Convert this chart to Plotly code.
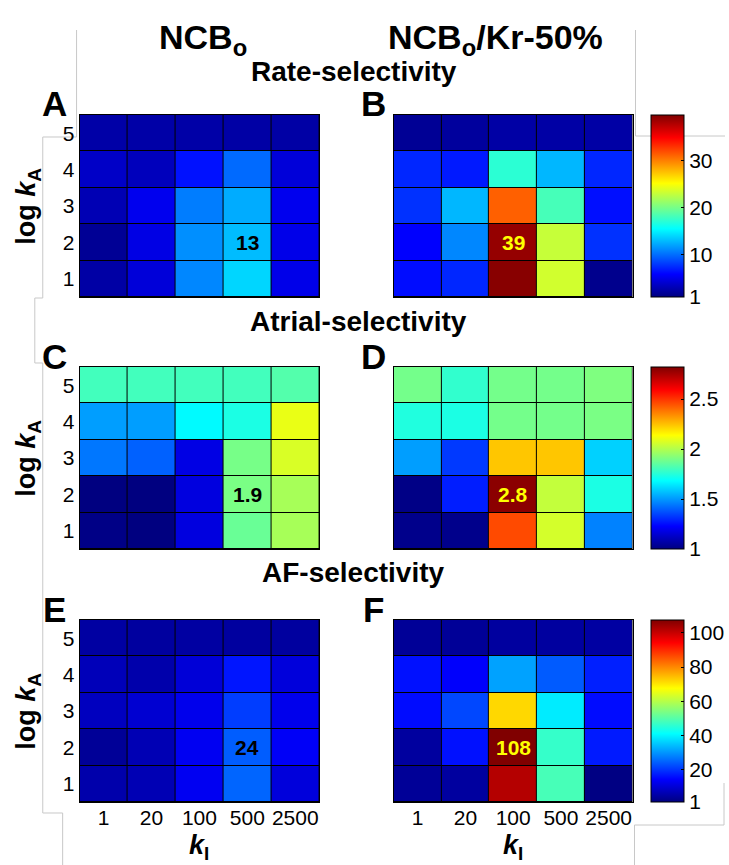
import plotly.graph_objects as go

# ---------------- data ----------------
kI_labels = ["1", "20", "100", "500", "2500"]
logkA = [1, 2, 3, 4, 5]

# rows: logkA = 1 .. 5 (bottom to top); columns: kI = 1, 20, 100, 500, 2500
rate_ncb = [
    [2.4, 4.4, 11.0, 14.0, 5.0],
    [1.8, 4.8, 11.3, 13.0, 5.0],
    [3.0, 5.2, 10.6, 12.4, 5.2],
    [3.7, 3.3, 6.5, 9.9, 4.4],
    [2.5, 2.5, 2.5, 2.4, 2.4],
]
rate_kr = [
    [6.3, 7.3, 39.5, 23.5, 1.5],
    [5.8, 11.0, 39.0, 23.1, 7.7],
    [7.7, 12.8, 31.3, 18.2, 6.4],
    [7.3, 6.8, 17.2, 12.8, 7.3],
    [1.8, 2.1, 2.4, 2.4, 2.4],
]
atrial_ncb = [
    [1.01, 1.00, 1.17, 1.87, 1.98],
    [1.00, 1.00, 1.17, 1.90, 1.98],
    [1.44, 1.40, 1.18, 1.895, 2.07],
    [1.51, 1.51, 1.675, 1.73, 2.10],
    [1.80, 1.80, 1.80, 1.80, 1.83],
]
atrial_kr = [
    [1.02, 1.02, 2.46, 2.06, 1.46],
    [1.01, 1.28, 2.80, 2.03, 1.73],
    [1.51, 1.33, 2.24, 2.24, 1.60],
    [1.74, 1.73, 1.89, 1.89, 1.90],
    [1.89, 1.77, 1.89, 1.89, 1.91],
]
af_ncb = [
    [5.5, 6.4, 12.9, 24.9, 10.5],
    [3.4, 6.4, 12.9, 24.0, 13.5],
    [7.6, 9.5, 12.3, 20.7, 12.3],
    [7.0, 5.5, 10.1, 16.5, 10.5],
    [4.6, 4.3, 4.6, 4.3, 4.3],
]
af_kr = [
    [3.4, 4.3, 102.0, 48.4, 1.3],
    [4.3, 16.0, 108.0, 46.5, 17.0],
    [15.5, 21.7, 71.6, 39.0, 15.5],
    [16.0, 14.0, 31.2, 23.8, 17.5],
    [3.4, 3.4, 4.3, 4.3, 4.6],
]

# highlighted cell per panel: (column index, logkA, label colour)
highlights = {
    "A": (3, 2, "black"), "B": (2, 2, "#ffff00"),
    "C": (3, 2, "black"), "D": (2, 2, "#ffff00"),
    "E": (3, 2, "black"), "F": (2, 2, "#ffff00"),
}

cb_ranges = [(1, 39.8), (1, 2.82), (1, 107.5)]
cb_ticks = [[1, 10, 20, 30], [1, 1.5, 2, 2.5], [1, 20, 40, 60, 80, 100]]

row_titles = ["Rate-selectivity", "Atrial-selectivity", "AF-selectivity"]
col_titles = ["NCB<sub>o</sub>", "NCB<sub>o</sub>/Kr-50%"]

# ---------------- layout geometry (pixels) ----------------
W, H = 729, 865
FONT = "Liberation Sans, Arial, sans-serif"
jet = [[0, "rgb(0,0,128)"], [0.125, "rgb(0,0,255)"], [0.375, "rgb(0,255,255)"],
       [0.625, "rgb(255,255,0)"], [0.875, "rgb(255,0,0)"], [1, "rgb(128,0,0)"]]

col_x = [(80, 321), (396, 636)]
row_y = [(115, 297), (367, 549), (620, 802)]
cb_x = 655

def px(x):
    return x / W

def py(y):
    return 1 - y / H

panels = [
    ("A", rate_ncb, 0, 0), ("B", rate_kr, 0, 1),
    ("C", atrial_ncb, 1, 0), ("D", atrial_kr, 1, 1),
    ("E", af_ncb, 2, 0), ("F", af_kr, 2, 1),
]

fig = go.Figure()
annotations = []
layout_axes = {}

for i, (letter, z, r, c) in enumerate(panels):
    n = i + 1
    xa = "x" if n == 1 else f"x{n}"
    ya = "y" if n == 1 else f"y{n}"
    ca = "coloraxis" if r == 0 else f"coloraxis{r + 1}"
    fig.add_trace(go.Heatmap(
        z=z, x=list(range(len(kI_labels))), y=logkA,
        coloraxis=ca, xaxis=xa, yaxis=ya, xgap=1, ygap=1,
        hoverinfo="skip",
    ))
    xk = "xaxis" if n == 1 else f"xaxis{n}"
    yk = "yaxis" if n == 1 else f"yaxis{n}"
    x0, x1 = col_x[c]
    y0, y1 = row_y[r]
    layout_axes[xk] = dict(
        domain=[px(x0), px(x1)], anchor=ya, range=[-0.5, 4.5],
        tickvals=list(range(len(kI_labels))), ticktext=kI_labels,
        showticklabels=(r == 2), ticks="", showgrid=False, zeroline=False,
        showline=True, mirror=True, linecolor="black", linewidth=1,
        tickfont=dict(family=FONT, size=21, color="black"),
        ticklabelstandoff=-3,
        fixedrange=True,
    )
    layout_axes[yk] = dict(
        domain=[py(y1), py(y0)], anchor=xa, range=[0.5, 5.5],
        tickvals=logkA, showticklabels=(c == 0), ticks="",
        showgrid=False, zeroline=False,
        showline=True, mirror=True, linecolor="black", linewidth=1,
        tickfont=dict(family=FONT, size=21, color="black"),
        fixedrange=True,
    )
    # highlighted cell label
    hc, hy, hcol = highlights[letter]
    val = z[hy - 1][hc]
    annotations.append(dict(
        x=hc, y=hy, xref=xa, yref=ya, text=f"<b>{val:g}</b>", showarrow=False,
        font=dict(family=FONT, size=21, color=hcol),
    ))
    # panel letter
    lx = 55 if c == 0 else 376
    annotations.append(dict(
        x=px(lx), y=py(y0 - 11), xref="paper", yref="paper", text=f"<b>{letter}</b>",
        showarrow=False, font=dict(family=FONT, size=35, color="black"),
        xanchor="center", yanchor="middle",
    ))
    # y title
    if c == 0:
        annotations.append(dict(
            x=px(28), y=py((y0 + y1) / 2), xref="paper", yref="paper",
            text="<b>log <i>k</i><sub>A</sub></b>", textangle=-90, showarrow=False,
            font=dict(family=FONT, size=27, color="black"),
            xanchor="center", yanchor="middle",
        ))
    # x title
    if r == 2:
        annotations.append(dict(
            x=px((x0 + x1) / 2), y=py(847), xref="paper", yref="paper",
            text="<b><i>k</i><sub>I</sub></b>", showarrow=False,
            font=dict(family=FONT, size=27, color="black"),
            xanchor="center", yanchor="middle",
        ))

# column titles
for c, t in enumerate(col_titles):
    cx = 204 if c == 0 else 498
    annotations.append(dict(
        x=px(cx), y=py(39), xref="paper", yref="paper", text=f"<b>{t}</b>",
        showarrow=False, font=dict(family=FONT, size=34, color="black"),
        xanchor="center", yanchor="middle",
    ))
# row titles
row_title_y = [72, 322, 572]
row_title_x = [356, 360, 355]
for t, yy, xx in zip(row_titles, row_title_y, row_title_x):
    annotations.append(dict(
        x=px(xx), y=py(yy), xref="paper", yref="paper", text=f"<b>{t}</b>",
        showarrow=False, font=dict(family=FONT, size=28, color="black"),
        xanchor="center", yanchor="middle",
    ))

# colour axes
for r in range(3):
    y0, y1 = row_y[r]
    key = "coloraxis" if r == 0 else f"coloraxis{r + 1}"
    layout_axes[key] = dict(
        colorscale=jet, cmin=cb_ranges[r][0], cmax=cb_ranges[r][1],
        colorbar=dict(
            x=px(cb_x), xanchor="left", xpad=0, ypad=0,
            y=py((y0 + y1) / 2), yanchor="middle",
            thickness=33, len=y1 - y0, lenmode="pixels",
            outlinewidth=1, outlinecolor="black",
            tickvals=cb_ticks[r], ticktext=[f"{v:g}" for v in cb_ticks[r]],
            ticks="inside", ticklen=3, tickcolor="black",
            tickfont=dict(family=FONT, size=21, color="black"),
        ),
    )

# light grey frame fragments from the original composite
grey = "#c8c8c8"
paths = [
    [(77, 30), (77, 137), (43, 137), (43, 298), (35, 298), (35, 363), (43, 363), (43, 813), (63, 813), (63, 865)],
    [(639, 30), (639, 136), (729, 136)],
    [(728, 783), (728, 825), (638, 825), (638, 865)],
]
shapes = []
for p in paths:
    d = "M " + " L ".join(f"{px(a):.5f},{py(b):.5f}" for a, b in p)
    shapes.append(dict(type="path", path=d, xref="paper", yref="paper",
                       line=dict(color=grey, width=1), layer="below"))

fig.update_layout(
    width=W, height=H, margin=dict(l=0, r=0, t=0, b=0),
    paper_bgcolor="white", plot_bgcolor="black",
    annotations=annotations, shapes=shapes, showlegend=False,
    font=dict(family=FONT, color="black"),
    **layout_axes,
)

fig.write_html("out.html")
